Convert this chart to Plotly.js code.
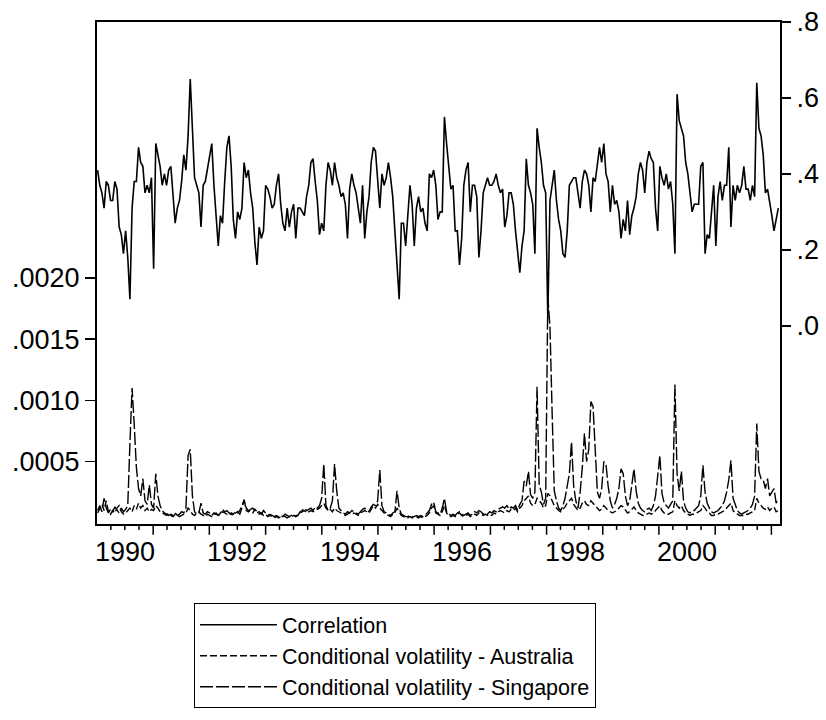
<!DOCTYPE html>
<html>
<head>
<meta charset="utf-8">
<script src="https://cdn.plot.ly/plotly-3.0.1.min.js"></script>
<style>
  html, body { margin: 0; padding: 0; background: #fff; }
  #chart { width: 826px; height: 720px; }
</style>
</head>
<body>
<div id="chart"></div>
<script>
// Bi-weekly observations, first one on 1990-01-05
const startDate = '1990-01-05';
const stepDays = 14;

// DCC correlation, Australia vs Singapore (right axis)
const correlation = [
  0.41, 0.37, 0.35, 0.31, 0.38, 0.37, 0.33, 0.33, 0.38, 0.36,
  0.26, 0.24, 0.19, 0.25, 0.18, 0.07, 0.31, 0.38, 0.38, 0.47,
  0.43, 0.42, 0.35, 0.37, 0.35, 0.39, 0.15, 0.48, 0.45, 0.42,
  0.37, 0.40, 0.37, 0.41, 0.42, 0.33, 0.27, 0.31, 0.33, 0.38,
  0.45, 0.41, 0.50, 0.65, 0.50, 0.39, 0.37, 0.35, 0.26, 0.37,
  0.38, 0.41, 0.44, 0.48, 0.37, 0.30, 0.21, 0.29, 0.27, 0.38,
  0.47, 0.50, 0.42, 0.28, 0.23, 0.30, 0.28, 0.31, 0.43, 0.39,
  0.41, 0.35, 0.31, 0.22, 0.16, 0.26, 0.23, 0.25, 0.37, 0.36,
  0.34, 0.31, 0.32, 0.37, 0.40, 0.32, 0.27, 0.25, 0.31, 0.26,
  0.30, 0.32, 0.23, 0.31, 0.31, 0.30, 0.29, 0.34, 0.37, 0.43,
  0.44, 0.38, 0.33, 0.24, 0.27, 0.25, 0.37, 0.43, 0.41, 0.37,
  0.43, 0.39, 0.37, 0.34, 0.35, 0.32, 0.23, 0.36, 0.40, 0.37,
  0.35, 0.31, 0.27, 0.37, 0.23, 0.30, 0.34, 0.43, 0.47, 0.46,
  0.37, 0.31, 0.40, 0.37, 0.39, 0.43, 0.39, 0.34, 0.25, 0.16,
  0.07, 0.27, 0.27, 0.21, 0.30, 0.37, 0.32, 0.21, 0.31, 0.34,
  0.30, 0.31, 0.27, 0.25, 0.40, 0.39, 0.41, 0.37, 0.28, 0.30,
  0.30, 0.55, 0.48, 0.42, 0.36, 0.37, 0.25, 0.25, 0.16, 0.23,
  0.37, 0.41, 0.43, 0.30, 0.37, 0.37, 0.34, 0.18, 0.25, 0.35,
  0.37, 0.39, 0.37, 0.37, 0.38, 0.40, 0.37, 0.35, 0.36, 0.26,
  0.29, 0.35, 0.35, 0.32, 0.25, 0.20, 0.14, 0.21, 0.25, 0.44,
  0.37, 0.35, 0.32, 0.19, 0.52, 0.47, 0.43, 0.37, 0.35, 0.02,
  0.33, 0.37, 0.41, 0.33, 0.28, 0.25, 0.19, 0.18, 0.25, 0.37,
  0.38, 0.39, 0.39, 0.35, 0.31, 0.38, 0.41, 0.40, 0.37, 0.30,
  0.39, 0.38, 0.43, 0.47, 0.43, 0.48, 0.40, 0.38, 0.30, 0.37,
  0.32, 0.33, 0.30, 0.23, 0.28, 0.25, 0.33, 0.24, 0.29, 0.31,
  0.34, 0.40, 0.43, 0.41, 0.35, 0.43, 0.46, 0.44, 0.43, 0.31,
  0.25, 0.42, 0.39, 0.37, 0.40, 0.36, 0.38, 0.32, 0.19, 0.61,
  0.54, 0.52, 0.50, 0.43, 0.40, 0.35, 0.30, 0.32, 0.32, 0.32,
  0.42, 0.43, 0.19, 0.24, 0.23, 0.29, 0.37, 0.21, 0.34, 0.38,
  0.33, 0.37, 0.37, 0.47, 0.26, 0.37, 0.33, 0.37, 0.35, 0.37,
  0.42, 0.36, 0.36, 0.33, 0.37, 0.34, 0.64, 0.52, 0.50, 0.45,
  0.35, 0.36, 0.33, 0.29, 0.25, 0.28, 0.31
];

// conditional volatilities, in units of 1e-5 (left axis)
const volAustraliaE5 = [
  8, 12, 15, 10, 18, 9, 7, 10, 8, 12,
  14, 9, 7, 8, 10, 12, 9, 14, 11, 16,
  12, 14, 10, 12, 9, 11, 10, 14, 12, 9,
  8, 7, 6, 8, 6, 5, 7, 6, 5, 6,
  7, 8, 12, 10, 7, 6, 8, 9, 7, 6,
  5, 7, 6, 5, 6, 8, 6, 7, 9, 8,
  7, 6, 8, 7, 9, 8, 10, 14, 18, 12,
  10, 9, 8, 11, 9, 7, 8, 6, 7, 5,
  6, 5, 4, 5, 4, 5, 6, 5, 4, 5,
  5, 6, 5, 7, 8, 9, 10, 8, 9, 10,
  9, 10, 11, 12, 14, 16, 12, 10, 11, 9,
  12, 10, 9, 8, 7, 6, 7, 8, 7, 8,
  7, 6, 8, 9, 10, 9, 8, 11, 14, 12,
  15, 12, 10, 8, 7, 6, 5, 7, 8, 12,
  9, 6, 5, 4, 4, 5, 4, 5, 5, 4,
  5, 4, 5, 6, 8, 12, 14, 8, 7, 6,
  9, 14, 8, 6, 5, 6, 5, 7, 8, 6,
  5, 6, 7, 5, 6, 7, 6, 8, 7, 6,
  7, 6, 7, 6, 8, 7, 9, 10, 9, 8,
  10, 9, 11, 10, 12, 9, 12, 14, 18, 20,
  22, 16, 14, 15, 20, 18, 16, 12, 14, 24,
  22, 18, 14, 12, 10, 9, 11, 13, 16, 18,
  20, 15, 12, 10, 12, 16, 18, 15, 14, 18,
  16, 14, 12, 10, 11, 14, 12, 10, 9, 8,
  9, 10, 12, 14, 13, 10, 8, 9, 11, 13,
  10, 8, 7, 6, 6, 7, 8, 7, 8, 10,
  12, 14, 10, 8, 7, 7, 8, 9, 18, 14,
  12, 14, 10, 8, 7, 6, 7, 7, 8, 9,
  10, 14, 12, 9, 8, 6, 6, 7, 7, 8,
  9, 10, 12, 14, 16, 10, 8, 7, 6, 6,
  6, 7, 7, 8, 9, 10, 20, 16, 14, 12,
  11, 13, 10, 12, 13, 9, 10
];

const volSingaporeE5 = [
  10, 14, 9, 20, 12, 8, 11, 9, 13, 10,
  8, 12, 9, 11, 14, 65, 110, 80, 45, 28,
  22, 36, 18, 15, 31, 15, 12, 40, 22, 14,
  10, 8, 7, 6, 7, 6, 8, 6, 7, 9,
  8, 12, 55, 60, 22, 9, 7, 8, 16, 8,
  7, 9, 8, 6, 8, 7, 6, 8, 11, 9,
  10, 8, 7, 6, 8, 9, 7, 12, 19, 10,
  9, 11, 12, 10, 8, 9, 7, 10, 8, 6,
  7, 6, 5, 6, 5, 6, 5, 7, 6, 5,
  6, 7, 5, 6, 9, 10, 12, 10, 11, 12,
  10, 13, 12, 14, 20, 48, 14, 10, 12, 18,
  48, 26, 12, 10, 8, 7, 9, 8, 10, 9,
  8, 7, 9, 11, 12, 10, 9, 13, 15, 14,
  18, 43, 14, 9, 8, 7, 6, 8, 9, 26,
  12, 7, 6, 5, 5, 6, 5, 5, 6, 5,
  6, 5, 6, 8, 10, 15, 17, 9, 8, 7,
  12, 20, 9, 7, 6, 7, 6, 8, 9, 7,
  6, 7, 8, 6, 7, 9, 8, 10, 9, 7,
  8, 7, 9, 8, 10, 9, 11, 12, 13, 12,
  14, 11, 13, 12, 14, 10, 15, 18, 34, 30,
  42, 23, 20, 25, 111, 31, 25, 15, 20, 185,
  160, 90, 26, 18, 12, 10, 14, 20, 31, 40,
  66, 30, 18, 12, 25, 45, 73, 50, 60, 99,
  95, 55, 25, 20, 28, 50, 48, 30, 18, 12,
  15, 20, 28, 44, 40, 22, 14, 18, 30, 44,
  26, 16, 12, 10, 9, 11, 12, 10, 14, 22,
  38, 55, 24, 16, 14, 12, 15, 18, 113, 40,
  26, 42, 18, 12, 9, 8, 10, 10, 12, 14,
  22, 47, 25, 16, 12, 9, 8, 9, 10, 12,
  14, 18, 25, 35, 51, 20, 14, 10, 8, 7,
  8, 9, 10, 12, 15, 22, 81, 42, 36, 35,
  28, 36, 22, 25, 28, 16, 20
];

const labelYears = [1990, 1992, 1994, 1996, 1998, 2000];
const tickYears = [1991, 1992, 1993, 1994, 1995, 1996, 1997, 1998, 1999, 2000, 2001, 2002];
const quarterMonths = ['04', '07', '10'];
const volTicks = [0.0005, 0.0010, 0.0015, 0.0020];
const corrTicks = [0, 0.2, 0.4, 0.6, 0.8];

const FONT = 'Liberation Sans, Arial, sans-serif';
const TICK_SIZE = 27;
const dx = stepDays * 86400000;
const xRange = ['1990-01-01', '2002-02-26'];

const traces = [
  {
    name: 'Correlation',
    y: correlation,
    x0: startDate, dx: dx,
    yaxis: 'y2',
    type: 'scatter', mode: 'lines',
    line: { color: '#000', width: 1.6 },
  },
  {
    name: 'Conditional volatility - Australia',
    y: volAustraliaE5.map(v => v * 1e-5),
    x0: startDate, dx: dx,
    type: 'scatter', mode: 'lines',
    line: { color: '#000', width: 1.4, dash: '7px,3px' },
  },
  {
    name: 'Conditional volatility - Singapore',
    y: volSingaporeE5.map(v => v * 1e-5),
    x0: startDate, dx: dx,
    type: 'scatter', mode: 'lines',
    line: { color: '#000', width: 1.4, dash: '13px,3px' },
  },
];

// EViews style date axis: long tick at each new year, short ticks at quarters,
// the label centred inside each even year
function tickMark(date, len) {
  return {
    type: 'line', xref: 'x', yref: 'paper',
    x0: date, x1: date, y0: 0, y1: -len / 512,
    line: { color: '#000', width: 1.5 },
  };
}
const tickShapes = [];
[1990].concat(tickYears).forEach(y => {
  if (y !== 1990) tickShapes.push(tickMark(y + '-01-01', 11));
  quarterMonths.forEach(m => {
    const d = y + '-' + m + '-01';
    if (d <= xRange[1]) tickShapes.push(tickMark(d, 6));
  });
});

const yearLabels = labelYears.map(y => ({
  x: y + '-07-02', xref: 'x',
  y: -0.055, yref: 'paper', yanchor: 'middle',
  text: String(y), showarrow: false,
  font: { family: FONT, size: TICK_SIZE, color: '#000' },
}));

const layout = {
  width: 826,
  height: 720,
  margin: { l: 97, r: 46, t: 22, b: 186 },
  paper_bgcolor: '#fff',
  plot_bgcolor: '#fff',
  font: { family: FONT, size: TICK_SIZE, color: '#000' },
  showlegend: true,
  legend: {
    x: 0.142, y: -0.158, xanchor: 'left', yanchor: 'top',
    bordercolor: '#000', borderwidth: 1,
    font: { family: FONT, size: 21.5, color: '#000' },
    itemwidth: 77,
    tracegroupgap: 0,
  },
  annotations: yearLabels,
  shapes: tickShapes,
  xaxis: {
    type: 'date',
    range: xRange,
    showticklabels: false,
    ticks: '',
    showline: true, mirror: true, linecolor: '#000', linewidth: 2,
    showgrid: false, zeroline: false,
  },
  yaxis: {
    range: [-0.00001, 0.00409],
    tickmode: 'array',
    tickvals: volTicks,
    ticktext: volTicks.map(v => v.toFixed(4).replace(/^0/, '')),
    ticks: 'outside', ticklen: 10, tickwidth: 1.5, tickcolor: '#000',
    showline: true, mirror: true, linecolor: '#000', linewidth: 2,
    showgrid: false, zeroline: false,
    tickfont: { family: FONT, size: TICK_SIZE, color: '#000' },
  },
  yaxis2: {
    overlaying: 'y', side: 'right', anchor: 'x',
    range: [-0.522, 0.8],
    tickmode: 'array',
    tickvals: corrTicks,
    ticktext: corrTicks.map(v => v.toFixed(1).replace(/^0/, '')),
    ticks: 'outside', ticklen: 10, tickwidth: 1.5, tickcolor: '#000',
    showline: false, showgrid: false, zeroline: false,
    tickfont: { family: FONT, size: TICK_SIZE, color: '#000' },
  },
};

Plotly.newPlot('chart', traces, layout, { displayModeBar: false, staticPlot: true });
</script>
</body>
</html>
